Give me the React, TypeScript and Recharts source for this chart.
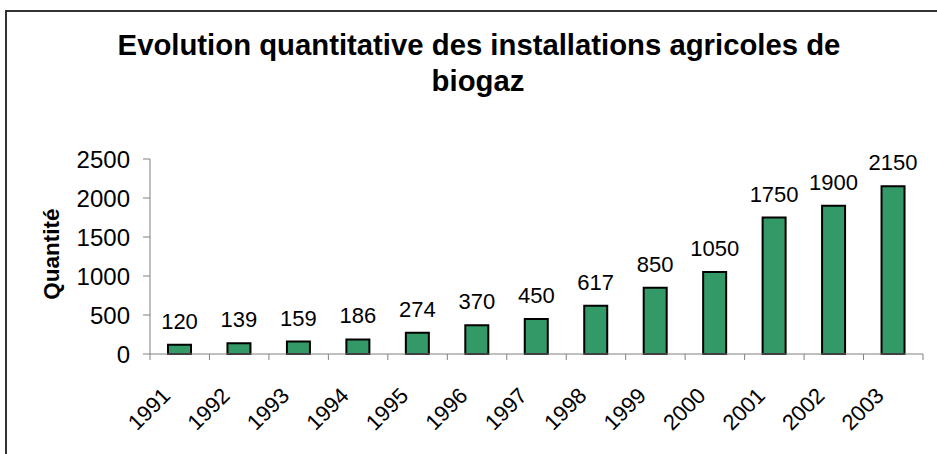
import React from 'react';
import { BarChart, Bar, XAxis, YAxis, LabelList } from 'recharts';

const years = ['1991', '1992', '1993', '1994', '1995', '1996', '1997', '1998', '1999', '2000', '2001', '2002', '2003'];
const installations = [120, 139, 159, 186, 274, 370, 450, 617, 850, 1050, 1750, 1900, 2150];
const yTicks = [0, 500, 1000, 1500, 2000, 2500];

const data = years.map((year, i) => ({ year, value: installations[i] }));

const FONT = 'Arial, "Liberation Sans", sans-serif';
const PLOT_LEFT = 150;
const PLOT_RIGHT = 923;
const BAND = (PLOT_RIGHT - PLOT_LEFT) / years.length;

// category labels rotated, with Excel-style ticks between categories
const YearTick = (props: any) => {
  const { x, y, payload, index } = props;
  const left = x - BAND / 2;
  const ax = x - 8;
  const ay = y + 35;
  return (
    <g>
      <line x1={left} y1={y - 8} x2={left} y2={y - 2} stroke="#808080" />
      {index === years.length - 1 && (
        <line x1={x + BAND / 2} y1={y - 8} x2={x + BAND / 2} y2={y - 2} stroke="#808080" />
      )}
      <text
        x={ax}
        y={ay}
        transform={`rotate(-45, ${ax}, ${ay})`}
        textAnchor="end"
        fontSize={22}
        fontFamily={FONT}
        fill="#000"
      >
        {payload.value}
      </text>
    </g>
  );
};

const ValueLabel = (props: any) => {
  const { x, y, width, value } = props;
  return (
    <text x={x + width / 2} y={y - 16} textAnchor="middle" fontSize={22} fontFamily={FONT} fill="#000">
      {value}
    </text>
  );
};

export default function App() {
  return (
    <div style={{ position: 'absolute', left: 0, top: 0, width: 937, height: 454, background: '#fff', overflow: 'hidden' }}>
      <div style={{ position: 'absolute', left: 5, top: 10, width: 940, height: 460, border: '2px solid #333', boxSizing: 'border-box' }} />
      <BarChart
        width={937}
        height={454}
        data={data}
        margin={{ top: 159, right: 937 - PLOT_RIGHT, bottom: 0, left: 0 }}
        style={{ position: 'absolute', left: 0, top: 0 }}
      >
        <XAxis
          dataKey="year"
          height={100}
          axisLine={{ stroke: '#808080' }}
          tickLine={false}
          interval={0}
          tick={<YearTick />}
        />
        <YAxis
          width={PLOT_LEFT}
          domain={[0, 2500]}
          ticks={yTicks}
          interval={0}
          axisLine={{ stroke: '#808080' }}
          tickLine={{ stroke: '#808080' }}
          tickSize={7}
          tickMargin={13}
          tick={{ fontSize: 24, fill: '#000', fontFamily: FONT }}
        />
        <Bar dataKey="value" fill="#339966" stroke="#000" strokeWidth={2} barSize={23} isAnimationActive={false}>
          <LabelList dataKey="value" position="top" content={<ValueLabel />} />
        </Bar>
      </BarChart>
      <svg width={937} height={454} style={{ position: 'absolute', left: 0, top: 0, pointerEvents: 'none' }}>
        <g fontFamily={FONT} fontWeight="bold" fill="#000" textAnchor="middle">
          <text x={479} y={55} fontSize={29.3}>Evolution quantitative des installations agricoles de</text>
          <text x={478} y={91} fontSize={29.3}>biogaz</text>
          <text x={59} y={254} fontSize={22.5} transform="rotate(-90, 59, 254)">Quantité</text>
        </g>
      </svg>
    </div>
  );
}
